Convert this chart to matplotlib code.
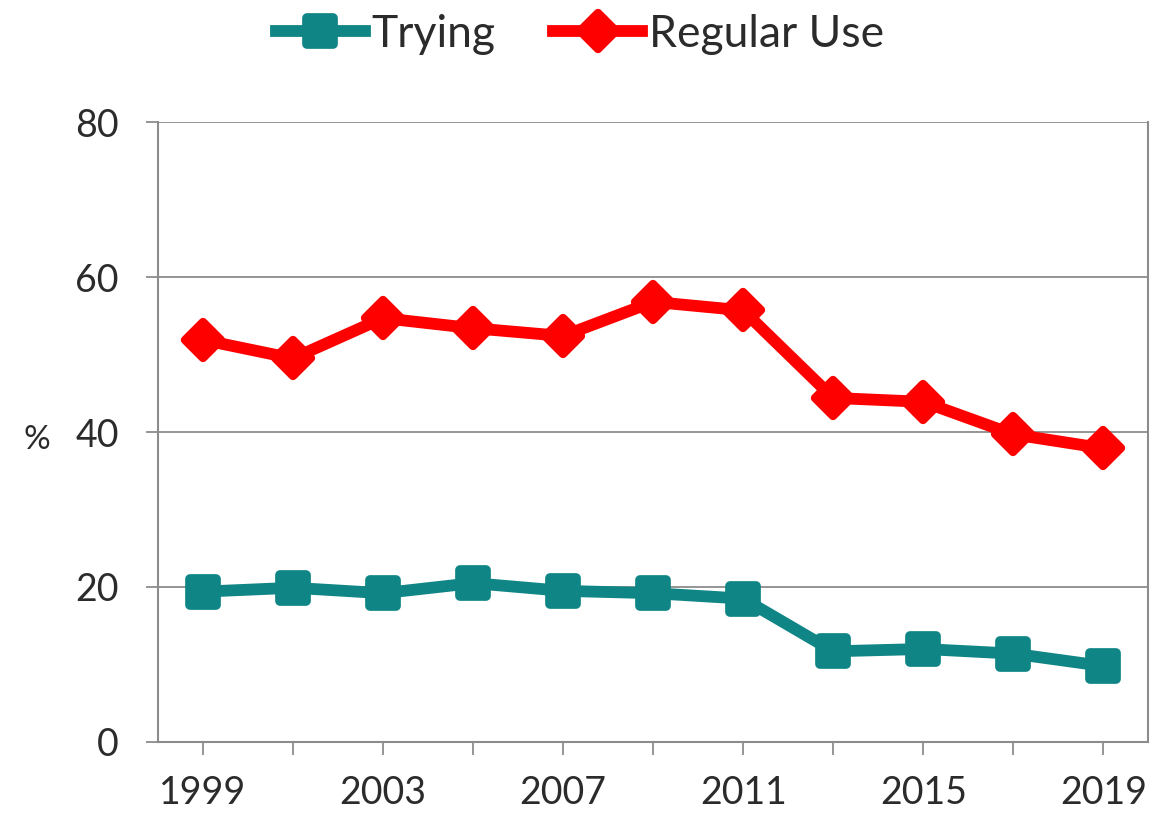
import matplotlib.pyplot as plt
from matplotlib.markers import MarkerStyle

years = [1999, 2001, 2003, 2005, 2007, 2009, 2011, 2013, 2015, 2017, 2019]
trying = [19.4, 19.9, 19.2, 20.5, 19.5, 19.2, 18.5, 11.7, 12.0, 11.4, 9.8]
regular_use = [51.9, 49.5, 54.7, 53.4, 52.4, 56.8, 55.7, 44.4, 43.9, 39.7, 37.9]
year_labels = ['1999', '', '2003', '', '2007', '', '2011', '', '2015', '', '2019']
y_ticks = [0, 20, 40, 60, 80]

TEAL = '#0f8585'
RED = '#ff0000'
AXIS_GRAY = '#8c8c8c'
TEXT = '#2b2b2b'

plt.rcParams['font.family'] = ['Lato', 'DejaVu Sans']

fig = plt.figure(figsize=(11.6, 8.14), dpi=100)
ax = fig.add_axes([0.136, 0.0885, 0.854, 0.7615])

ax.plot(years, trying, color=TEAL, linewidth=8.5,
        marker=MarkerStyle('s', joinstyle='round'), markersize=19,
        markeredgewidth=7, markeredgecolor=TEAL, markerfacecolor=TEAL,
        label='Trying', zorder=3)
ax.plot(years, regular_use, color=RED, linewidth=8.5,
        marker=MarkerStyle('D', joinstyle='round'), markersize=18,
        markeredgewidth=6, markeredgecolor=RED, markerfacecolor=RED,
        label='Regular Use', zorder=3)

ax.set_xlim(1998, 2020)
ax.set_ylim(0, 80)
ax.set_xticks(years)
ax.set_xticklabels(year_labels)
ax.set_yticks(y_ticks)

ax.grid(axis='y', color=AXIS_GRAY, linewidth=1.3)
ax.set_axisbelow(True)
for side in ['left', 'bottom', 'right']:
    ax.spines[side].set_color(AXIS_GRAY)
    ax.spines[side].set_linewidth(1.5)
ax.spines['top'].set_visible(False)

ax.tick_params(axis='both', direction='out', length=9, width=1.3,
               color=AXIS_GRAY, labelsize=27, labelcolor=TEXT)
ax.tick_params(axis='x', pad=15)
ax.tick_params(axis='y', pad=19)

ax.set_ylabel('%', rotation=0, fontsize=24, color=TEXT, va='center', ha='center')
ax.yaxis.set_label_coords(-0.122, 0.487)

ax.legend(loc='center', bbox_to_anchor=(0.426, 1.142), ncol=2, frameon=False,
          fontsize=32, handlelength=2.0, handletextpad=0.15, columnspacing=1.3,
          labelcolor=TEXT)

fig.savefig('out.png', dpi=100, facecolor='white')
